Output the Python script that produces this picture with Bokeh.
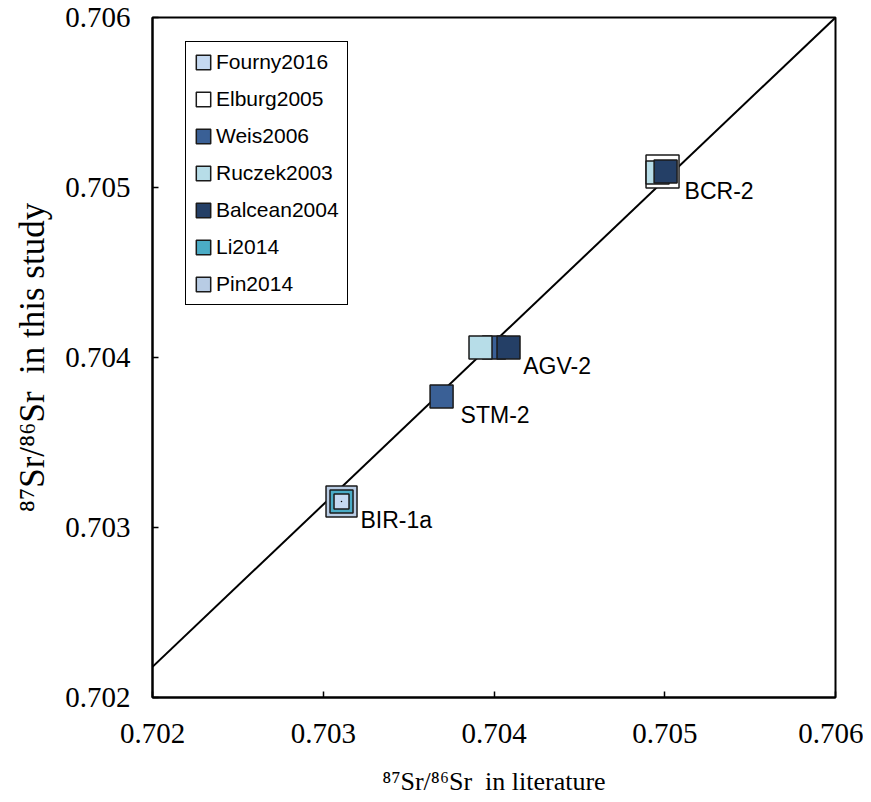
from bokeh.plotting import figure
from bokeh.models import Range1d, FixedTicker, PrintfTickFormatter, Legend, LegendItem
from bokeh.core.properties import value
from bokeh.embed import file_html
from bokeh.resources import INLINE

# ---------------- data ----------------
series_names = ["Fourny2016", "Elburg2005", "Weis2006", "Ruczek2003", "Balcean2004", "Li2014", "Pin2014"]

fourny_x = [0.703107]
fourny_y = [0.703153]
elburg_x = [0.704987]
elburg_y = [0.705094]
weis_x = [0.703693, 0.704000]
weis_y = [0.703771, 0.704059]
ruczek_x = [0.703921, 0.704958]
ruczek_y = [0.704059, 0.705088]
balcean_x = [0.704085, 0.705005]
balcean_y = [0.704059, 0.705094]
li_x = [0.703107]
li_y = [0.703153]
pin_x = [0.703107]
pin_y = [0.703153]

standard_names = ["BIR-1a", "STM-2", "AGV-2", "BCR-2"]
standard_x = [0.703107, 0.703693, 0.704060, 0.705005]
standard_y = [0.703153, 0.703771, 0.704059, 0.705094]

fit_x = [0.702, 0.706]
fit_y = [0.70218, 0.706]

tick_values = [0.702, 0.703, 0.704, 0.705, 0.706]

x_title = "\u2078\u2077Sr/\u2078\u2076Sr\u00a0 in literature"
y_title = "\u2078\u2077Sr/\u2078\u2076Sr\u00a0 in this study"

# ---------------- styles ----------------
colors = {
    "Fourny2016": "#c5d9f1",
    "Elburg2005": "#ffffff",
    "Weis2006": "#3a6096",
    "Ruczek2003": "#b7dde8",
    "Balcean2004": "#243f66",
    "Li2014": "#4bacc6",
    "Pin2014": "#b8cce4",
}
sizes = {
    "Pin2014": 31,
    "Elburg2005": 33,
    "Li2014": 23,
    "Weis2006": 23,
    "Ruczek2003": 23,
    "Balcean2004": 23,
    "Fourny2016": 15,
}
data = {
    "Fourny2016": (fourny_x, fourny_y),
    "Elburg2005": (elburg_x, elburg_y),
    "Weis2006": (weis_x, weis_y),
    "Ruczek2003": (ruczek_x, ruczek_y),
    "Balcean2004": (balcean_x, balcean_y),
    "Li2014": (li_x, li_y),
    "Pin2014": (pin_x, pin_y),
}
draw_order = ["Pin2014", "Elburg2005", "Li2014", "Weis2006", "Ruczek2003", "Balcean2004", "Fourny2016"]
edge = "#1a1a1a"

p = figure(width=863, height=800, output_backend="svg", toolbar_location=None,
           x_range=Range1d(0.702, 0.706), y_range=Range1d(0.702, 0.706),
           min_border_left=152, min_border_right=28, min_border_top=17, min_border_bottom=103)
p.background_fill_color = "white"
p.border_fill_color = "white"
p.outline_line_color = "black"
p.outline_line_width = 2
p.xgrid.visible = False
p.ygrid.visible = False

for ax, title in ((p.xaxis, x_title), (p.yaxis, y_title)):
    ax.ticker = FixedTicker(ticks=tick_values)
    ax.formatter = PrintfTickFormatter(format="%.3f")
    ax.axis_line_color = "black"
    ax.axis_line_width = 2
    ax.major_tick_in = 6
    ax.major_tick_out = 0
    ax.major_tick_line_width = 1.5
    ax.minor_tick_line_color = None
    ax.major_label_text_font = "Liberation Serif"
    ax.major_label_text_font_size = "29px"
    ax.major_label_text_color = "black"
    ax.axis_label = title
    ax.axis_label_text_font = "Liberation Serif"
    ax.axis_label_text_font_style = "normal"
    ax.axis_label_text_color = "black"
p.xaxis.major_label_standoff = 26
p.xaxis.axis_label_standoff = 21
p.xaxis.axis_label_text_font_size = "26px"
p.yaxis.major_label_standoff = 22
p.yaxis.axis_label_standoff = 10
p.yaxis.axis_label_text_font_size = "35px"

# legend proxies (zero-size rects drawn first, hidden under the markers)
legend_renderers = {}
for name in series_names:
    xs, ys = data[name]
    legend_renderers[name] = p.rect(xs, ys, width=0, height=0, fill_color=colors[name],
                                    line_color=edge, line_width=1.5)

# fit line
p.line(fit_x, fit_y, line_color="black", line_width=2)

# data points
for name in draw_order:
    xs, ys = data[name]
    p.scatter(xs, ys, marker="square", size=sizes[name], fill_color=colors[name],
              line_color=edge, line_width=1.5)
# center dot on the Fourny2016 point
p.scatter(fourny_x, fourny_y, marker="dot", size=6, line_color="black", fill_color="black")

# sample labels
p.text(x=standard_x, y=standard_y, text=standard_names, x_offset=19, y_offset=19,
       text_font=value("Liberation Sans"), text_font_size="23px", text_color="black",
       text_align="left", text_baseline="middle")

items = [LegendItem(label=name, renderers=[legend_renderers[name]]) for name in series_names]
legend = Legend(items=items, location=(33, 392), orientation="vertical",
                glyph_width=18, glyph_height=18, label_height=18, spacing=13,
                padding=8, label_standoff=4,
                label_text_font="Liberation Sans", label_text_font_size="21px",
                label_text_color="black",
                border_line_color="black", border_line_width=1.5, border_line_alpha=1.0,
                background_fill_color="white", background_fill_alpha=1.0)
p.add_layout(legend, "center")

open("out.html", "w").write(file_html(p, INLINE))
